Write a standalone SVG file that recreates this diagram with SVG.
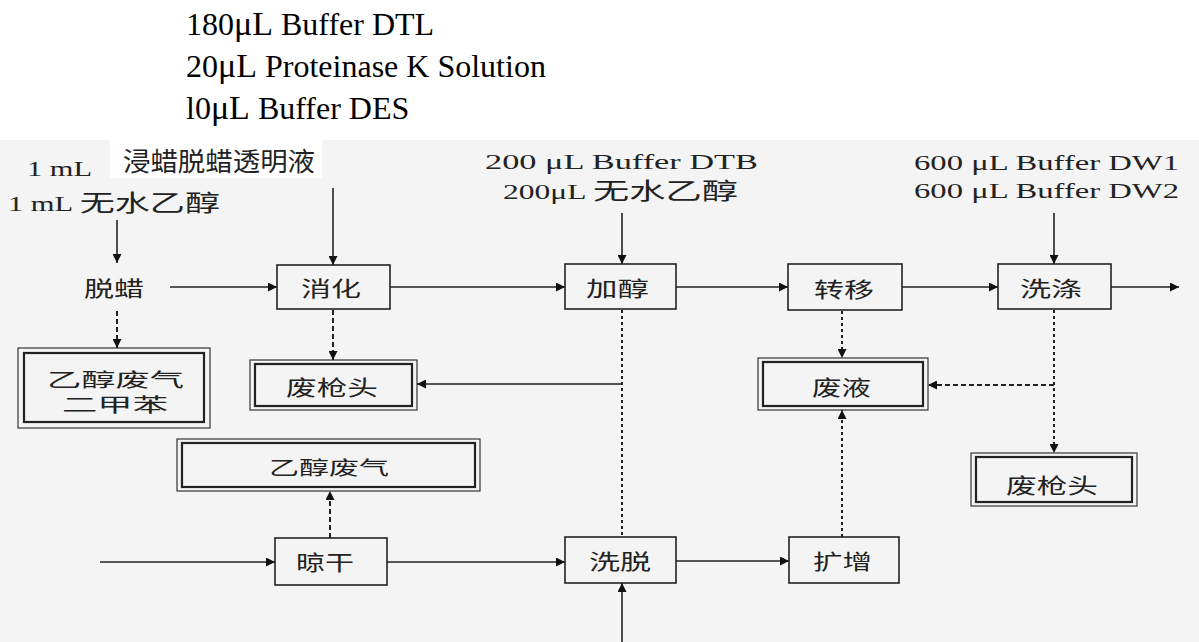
<svg xmlns="http://www.w3.org/2000/svg" width="1199" height="642" viewBox="0 0 1199 642">
<style>
.top{font-family:"Liberation Serif","Times New Roman",serif;font-size:32px;fill:#000}
.lat{font-family:"Liberation Serif","Noto Sans CJK SC",serif;font-size:20px;fill:#222}
.cjk{font-family:"Noto Sans CJK SC","Liberation Sans",sans-serif;fill:#222}
.lbl{font-family:"Noto Sans CJK SC","Liberation Sans",sans-serif;font-size:21px;fill:#222}
.box{fill:none;stroke:#222;stroke-width:1.6}
.outer{fill:none;stroke:#333;stroke-width:1.2}
.inner{fill:none;stroke:#222;stroke-width:2.2}
.sol{fill:none;stroke:#222;stroke-width:1.6}
.dash{fill:none;stroke:#222;stroke-width:2;stroke-dasharray:5 3}
.dot{fill:none;stroke:#222;stroke-width:2;stroke-dasharray:3 3}
</style>
<defs>
<marker id="ah" viewBox="0 0 10 10" refX="10" refY="5" markerWidth="11" markerHeight="9" markerUnits="userSpaceOnUse" orient="auto">
<path d="M0,0 L10,5 L0,10 z" fill="#111"/>
</marker>
</defs>
<rect x="0" y="0" width="1199" height="642" fill="#ffffff"/>
<rect x="0" y="140" width="1199" height="502" fill="#f4f4f4"/>
<rect x="110" y="140" width="212" height="38" fill="#ffffff"/>

<g id="top-reagents">
<text class="top" x="186" y="35">180<tspan font-size="34">μL</tspan> Buffer DTL</text>
<text class="top" x="186" y="77">20<tspan font-size="34">μL</tspan> Proteinase K Solution</text>
<text class="top" x="186" y="119">l0<tspan font-size="34">μL</tspan> Buffer DES</text>
</g>

<g id="inputs">
<text class="cjk" font-size="26" x="123" y="171" textLength="192" lengthAdjust="spacingAndGlyphs">浸蜡脱蜡透明液</text>
<text class="lat" x="27" y="176" textLength="65" lengthAdjust="spacingAndGlyphs">1 mL</text>
<text class="lat" x="8" y="211" textLength="212" lengthAdjust="spacingAndGlyphs">1 mL <tspan class="cjk" font-size="23">无水乙醇</tspan></text>
<text class="lat" x="485" y="169" textLength="273" lengthAdjust="spacingAndGlyphs">200 μL Buffer DTB</text>
<text class="lat" x="503" y="199" textLength="235" lengthAdjust="spacingAndGlyphs">200μL <tspan class="cjk" font-size="23">无水乙醇</tspan></text>
<text class="lat" x="914" y="170" textLength="265" lengthAdjust="spacingAndGlyphs">600 μL Buffer DW1</text>
<text class="lat" x="914" y="198" textLength="265" lengthAdjust="spacingAndGlyphs">600 μL Buffer DW2</text>
</g>

<g id="node-tuola">
<text class="lbl" x="84" y="296" textLength="60" lengthAdjust="spacingAndGlyphs">脱蜡</text>
</g>
<g id="node-xiaohua">
<rect class="box" x="277" y="265" width="113" height="44"/>
<text class="lbl" x="301" y="296" textLength="60" lengthAdjust="spacingAndGlyphs">消化</text>
</g>
<g id="node-jiachun">
<rect class="box" x="565" y="264" width="111" height="45"/>
<text class="lbl" x="586" y="296" textLength="63" lengthAdjust="spacingAndGlyphs">加醇</text>
</g>
<g id="node-zhuanyi">
<rect class="box" x="788" y="264" width="114" height="46"/>
<text class="lbl" x="814" y="297" textLength="60" lengthAdjust="spacingAndGlyphs">转移</text>
</g>
<g id="node-xidi">
<rect class="box" x="998" y="264" width="113" height="45"/>
<text class="lbl" x="1020" y="296" textLength="62" lengthAdjust="spacingAndGlyphs">洗涤</text>
</g>
<g id="node-lianggan">
<rect class="box" x="275" y="538" width="112" height="47"/>
<text class="lbl" x="296" y="570" textLength="58" lengthAdjust="spacingAndGlyphs">晾干</text>
</g>
<g id="node-xituo">
<rect class="box" x="565" y="537" width="111" height="46"/>
<text class="lbl" x="589" y="569" textLength="62" lengthAdjust="spacingAndGlyphs">洗脱</text>
</g>
<g id="node-kuozeng">
<rect class="box" x="789" y="537" width="110" height="46"/>
<text class="lbl" x="813" y="569" textLength="59" lengthAdjust="spacingAndGlyphs">扩增</text>
</g>

<g id="node-waste-gas-xylene">
<rect class="outer" x="18" y="348" width="192" height="80"/>
<rect class="inner" x="24" y="353" width="180" height="69"/>
<text class="cjk" font-size="19" x="47" y="387" textLength="137" lengthAdjust="spacingAndGlyphs">乙醇废气</text>
<text class="cjk" font-size="19" x="62" y="412" textLength="106" lengthAdjust="spacingAndGlyphs">二甲苯</text>
</g>
<g id="node-waste-tips-left">
<rect class="outer" x="250" y="360" width="167" height="50"/>
<rect class="inner" x="255" y="364" width="157" height="42"/>
<text class="lbl" x="286" y="395" textLength="92" lengthAdjust="spacingAndGlyphs">废枪头</text>
</g>
<g id="node-waste-gas">
<rect class="outer" x="177" y="439" width="303" height="52"/>
<rect class="inner" x="182" y="443" width="293" height="44"/>
<text class="cjk" font-size="19" x="269" y="475" textLength="120" lengthAdjust="spacingAndGlyphs">乙醇废气</text>
</g>
<g id="node-waste-liquid">
<rect class="outer" x="758" y="358" width="170" height="52"/>
<rect class="inner" x="763" y="362" width="160" height="44"/>
<text class="lbl" x="812" y="395" textLength="59" lengthAdjust="spacingAndGlyphs">废液</text>
</g>
<g id="node-waste-tips-right">
<rect class="outer" x="971" y="453" width="166" height="53"/>
<rect class="inner" x="976" y="457" width="156" height="45"/>
<text class="lbl" x="1006" y="493" textLength="92" lengthAdjust="spacingAndGlyphs">废枪头</text>
</g>

<g id="connectors">
<line class="sol" x1="117" y1="220" x2="117" y2="263" marker-end="url(#ah)"/>
<line class="sol" x1="333" y1="188" x2="333" y2="265" marker-end="url(#ah)"/>
<line class="sol" x1="170" y1="287" x2="277" y2="287" marker-end="url(#ah)"/>
<line class="sol" x1="390" y1="287" x2="565" y2="287" marker-end="url(#ah)"/>
<line class="sol" x1="622" y1="213" x2="622" y2="264" marker-end="url(#ah)"/>
<line class="sol" x1="676" y1="287" x2="788" y2="287" marker-end="url(#ah)"/>
<line class="sol" x1="902" y1="287" x2="998" y2="287" marker-end="url(#ah)"/>
<line class="sol" x1="1054" y1="213" x2="1054" y2="264" marker-end="url(#ah)"/>
<line class="sol" x1="1111" y1="287" x2="1179" y2="287" marker-end="url(#ah)"/>
<line class="sol" x1="100" y1="562" x2="275" y2="562" marker-end="url(#ah)"/>
<line class="sol" x1="387" y1="562" x2="565" y2="562" marker-end="url(#ah)"/>
<line class="sol" x1="676" y1="561" x2="789" y2="561" marker-end="url(#ah)"/>
<line class="sol" x1="622" y1="642" x2="622" y2="583" marker-end="url(#ah)"/>
<line class="sol" x1="622" y1="384" x2="417" y2="384" marker-end="url(#ah)"/>
<line class="dash" x1="117" y1="311" x2="117" y2="348" marker-end="url(#ah)"/>
<line class="dash" x1="333" y1="310" x2="333" y2="360" marker-end="url(#ah)"/>
<line class="dot" x1="622" y1="310" x2="622" y2="537"/>
<line class="dot" x1="842" y1="311" x2="842" y2="358" marker-end="url(#ah)"/>
<line class="dot" x1="842" y1="537" x2="842" y2="410" marker-end="url(#ah)"/>
<line class="dot" x1="1054" y1="310" x2="1054" y2="453" marker-end="url(#ah)"/>
<line class="dash" x1="1054" y1="385" x2="928" y2="385" stroke-dasharray="7 5" marker-end="url(#ah)"/>
<line class="dash" x1="330" y1="538" x2="330" y2="491" marker-end="url(#ah)"/>
</g>
</svg>
